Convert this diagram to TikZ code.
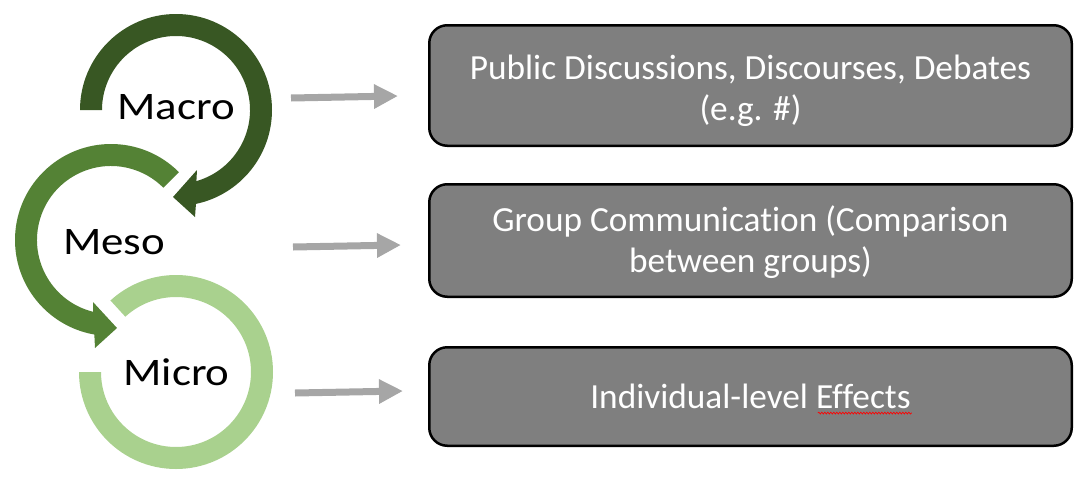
\documentclass[tikz,border=0pt]{standalone}
\usepackage{fontspec}
\setmainfont{Carlito}[Ligatures=CommonOff]
\newfontfamily\lvlfont{Carlito}[FakeStretch=1.15, Ligatures=CommonOff]
\usetikzlibrary{calc,arrows.meta,decorations.pathmorphing}
\definecolor{macroC}{HTML}{385723}
\definecolor{mesoC}{HTML}{548235}
\definecolor{microC}{HTML}{A9D18E}
\definecolor{boxC}{HTML}{7F7F7F}
\definecolor{arrC}{HTML}{A6A6A6}
\begin{document}
\begin{tikzpicture}[x=1pt,y=1pt,
  levellabel/.style={font=\lvlfont\fontsize{39}{44}\selectfont, text=black, inner sep=0pt},
  infobox/.style={draw=black, line width=2.5pt, fill=boxC, rounded corners=18pt,
    minimum width=642.5pt, inner sep=0pt},
  boxtext/.style={text=white, align=center, inner sep=0pt,
    font=\fontsize{35.3}{40.5}\selectfont},
  garrow/.style={draw=arrC, line width=7pt, -{Triangle[length=24pt,width=23pt]}}]
\useasboundingbox (0,0) rectangle (1092,-482);
% rings
\coordinate (C1) at (176,-110);
\coordinate (C2) at (111,-240);
\coordinate (C3) at (176,-372);
\fill[macroC] ($(C1)+(180:96)$) arc[start angle=180,end angle=-78,radius=96]
  -- (195,-217) -- (173,-197) -- (197,-170)
  -- ($(C1)+(-74:74)$) arc[start angle=-74,end angle=180,radius=74] -- cycle;
\fill[mesoC] ($(C2)+(45:96)$) arc[start angle=45,end angle=260,radius=96]
  -- (95,-348) -- (117,-328) -- (93,-302)
  -- ($(C2)+(256:74)$) arc[start angle=256,end angle=45,radius=74] -- cycle;
\fill[microC] ($(C3)+(180:97)$) arc[start angle=180,end angle=492.5,radius=97]
  -- ($(C3)+(132.5:75)$) arc[start angle=492.5,end angle=180,radius=75] -- cycle;
% labels
\node[levellabel] (macro) at (176,-107.5) {Macro};
\node[levellabel] (meso) at (114,-242) {Meso};
\node[levellabel] (micro) at (176.5,-372.5) {Micro};
% boxes
\node[infobox, minimum height=120.5pt] (b1) at (750.5,-85.5) {};
\node[infobox, minimum height=112.5pt] (b2) at (750.5,-240.5) {};
\node[infobox, minimum height=98.5pt] (b3) at (750.5,-396.5) {};
\node[boxtext] (t1) at ($(b1.center)+(0,-5.5)$)
  {Public Discussions, Discourses, Debates\\(e.g. \#)};
\node[boxtext] (t2) at ($(b2.center)+(0,-1.5)$)
  {Group Communication (Comparison\\between groups)};
\node[boxtext] (t3) at (b3.center) {Individual-level Effects};
\draw[red, line width=0.7pt, decorate, decoration={snake, amplitude=0.9pt, segment length=3pt}]
  ($(t3.south east)+(-93,-4)$) -- ($(t3.south east)+(1,-4)$);
% arrows
\coordinate (s1) at (291,-98);  \coordinate (e1) at (398,-96);
\coordinate (s2) at (293,-247); \coordinate (e2) at (401,-245);
\coordinate (s3) at (295,-393); \coordinate (e3) at (403,-391);
\draw[garrow] (s1) -- (e1);
\draw[garrow] (s2) -- (e2);
\draw[garrow] (s3) -- (e3);
\end{tikzpicture}
\end{document}
